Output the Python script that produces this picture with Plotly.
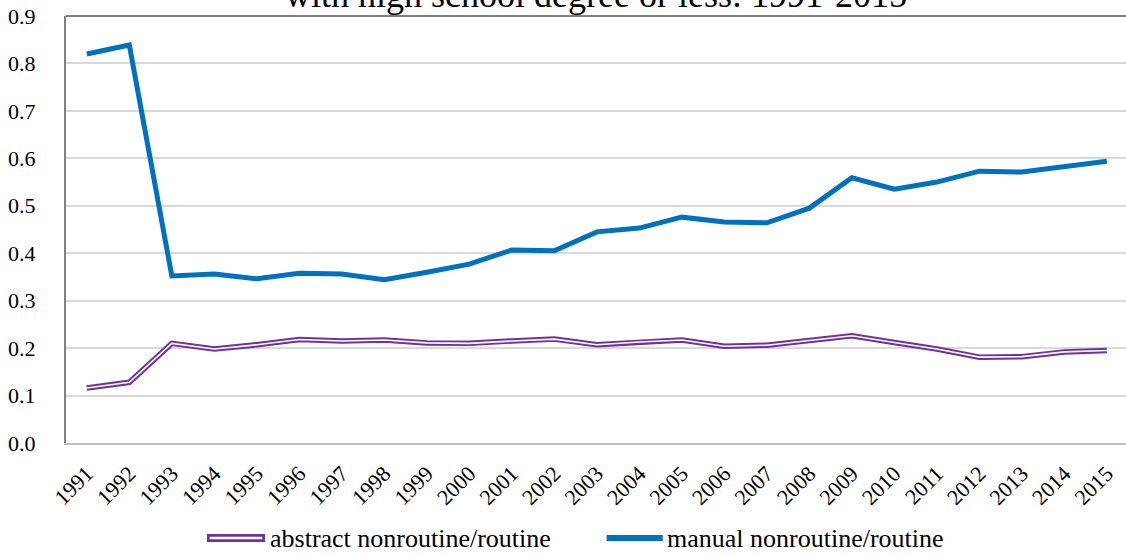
import plotly.graph_objects as go

# Survey years on the category axis
years = [str(y) for y in range(1991, 2016)]

# Ratio of nonroutine to routine task intensity, workers with high school degree or less
abstract_ratio = [0.116, 0.128, 0.210, 0.198, 0.207, 0.218, 0.215, 0.217, 0.211, 0.210,
                  0.215, 0.219, 0.207, 0.213, 0.217, 0.204, 0.206, 0.216, 0.226, 0.212,
                  0.198, 0.181, 0.182, 0.192, 0.195]
manual_ratio = [0.820, 0.839, 0.352, 0.356, 0.346, 0.358, 0.356, 0.344, 0.360, 0.377,
                0.407, 0.405, 0.445, 0.453, 0.476, 0.466, 0.464, 0.495, 0.559, 0.535,
                0.550, 0.573, 0.571, 0.582, 0.594]

y_ticks = [0.0, 0.1, 0.2, 0.3, 0.4, 0.5, 0.6, 0.7, 0.8, 0.9]
y_tick_text = [f"{v:.1f}" for v in y_ticks]

PURPLE = "#7030A0"
BLUE = "#0070C0"
FONT = "Liberation Serif"

fig = go.Figure()

# Abstract series drawn as a double line: purple stroke with a thin white core
fig.add_trace(go.Scatter(x=years, y=abstract_ratio, mode="lines",
                         line=dict(color=PURPLE, width=5.5), showlegend=False,
                         hoverinfo="skip"))
fig.add_trace(go.Scatter(x=years, y=abstract_ratio, mode="lines",
                         line=dict(color="white", width=1.6), showlegend=False,
                         name="abstract nonroutine/routine"))
fig.add_trace(go.Scatter(x=years, y=manual_ratio, mode="lines",
                         line=dict(color=BLUE, width=5), showlegend=False,
                         name="manual nonroutine/routine"))

# Top frame line of the plot area
fig.add_shape(type="line", xref="paper", yref="paper", x0=0, x1=1, y0=1, y1=1,
              line=dict(color="#808080", width=2))

# Hand-drawn legend below the axis
leg_y = -0.2225
fig.add_shape(type="line", xref="paper", yref="paper", x0=0.133, x1=0.1877,
              y0=leg_y, y1=leg_y, line=dict(color=PURPLE, width=8))
fig.add_shape(type="line", xref="paper", yref="paper", x0=0.1355, x1=0.1852,
              y0=leg_y, y1=leg_y, line=dict(color="white", width=2.5))
fig.add_shape(type="line", xref="paper", yref="paper", x0=0.510, x1=0.563,
              y0=leg_y, y1=leg_y, line=dict(color=BLUE, width=6))
fig.add_annotation(xref="paper", yref="paper", x=0.1906, y=leg_y, xanchor="left",
                   yanchor="middle", text="abstract nonroutine/routine", showarrow=False,
                   font=dict(family=FONT, size=26, color="black"))
fig.add_annotation(xref="paper", yref="paper", x=0.5655, y=leg_y, xanchor="left",
                   yanchor="middle", text="manual nonroutine/routine", showarrow=False,
                   font=dict(family=FONT, size=26, color="black"))

# Title sitting above the plot area
fig.add_annotation(xref="paper", yref="paper", x=0.5, y=1, xanchor="center",
                   yanchor="bottom", text="with high school degree or less: 1991-2015",
                   showarrow=False, borderpad=0,
                   font=dict(family=FONT, size=36, color="black"))

fig.update_layout(
    width=1126, height=556,
    margin=dict(l=66, r=0, t=16, b=113),
    paper_bgcolor="white", plot_bgcolor="white",
    font=dict(family=FONT, size=22, color="black"),
)
fig.update_xaxes(type="category", range=[-0.49, 24.45], tickangle=-45,
                 showline=True, linecolor="#BFBFBF", linewidth=2,
                 showgrid=False, ticks="", ticklabelstandoff=7,
                 tickfont=dict(family=FONT, size=22, color="black"))
fig.update_yaxes(range=[0, 0.9], tickvals=y_ticks, ticktext=y_tick_text,
                 showline=True, linecolor="#808080", linewidth=2,
                 showgrid=True, gridcolor="#D9D9D9", gridwidth=1.5,
                 zeroline=False, ticks="", ticklabelstandoff=24,
                 tickfont=dict(family=FONT, size=22, color="black"))

fig.write_html("out.html")
